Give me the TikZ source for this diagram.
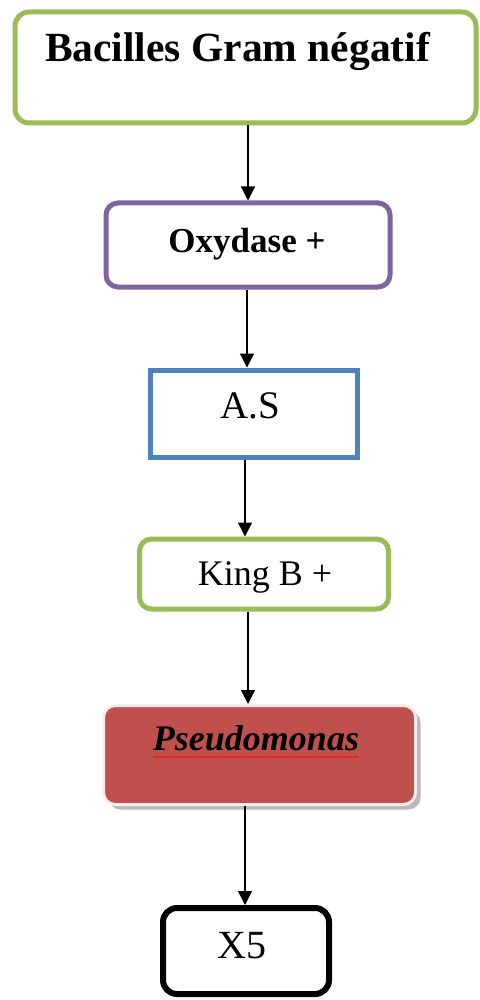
\documentclass[tikz,border=0pt]{standalone}
\usepackage{fontspec}
\setmainfont{Liberation Serif}
\usetikzlibrary{arrows.meta,shadows,decorations.pathmorphing}
\definecolor{bgreen}{HTML}{9BBB59}
\definecolor{bpurple}{HTML}{8064A2}
\definecolor{bblue}{HTML}{4F81BD}
\definecolor{bred}{HTML}{C0504D}
\tikzset{
  box/.style={rectangle, inner sep=0pt, line width=5pt, fill=white},
  lbl/.style={anchor=base, inner sep=0pt, text=black},
  arr/.style={line width=1.3pt, -{Triangle[length=14pt,width=14pt]}}
}
\begin{document}
\begin{tikzpicture}[x=1pt,y=-1pt]
\useasboundingbox[fill=white] (0,0) rectangle (479,1000);
% boxes
\node[box, draw=bgreen, rounded corners=14pt, minimum width=461pt, minimum height=111pt] (b1) at (245.5,67.5) {};
\node[box, draw=bpurple, rounded corners=12pt, minimum width=284pt, minimum height=84pt] (b2) at (248,245) {};
\node[box, draw=bblue, minimum width=207pt, minimum height=87pt] (b3) at (253.5,413.5) {};
\node[box, draw=bgreen, rounded corners=12pt, minimum width=249pt, minimum height=70pt] (b4) at (264,574) {};
\node[box, fill=bred, draw=red!8, line width=3pt, rounded corners=12pt, minimum width=312pt, minimum height=99pt,
      drop shadow={shadow xshift=5pt, shadow yshift=-5pt, fill=gray!55, opacity=1}] (b5) at (259.5,755) {};
\node[box, draw=black, line width=6pt, rounded corners=14pt, minimum width=166pt, minimum height=86pt] (b6) at (246,951) {};
% texts
\node[lbl, font=\fontsize{41.5}{41.5}\selectfont\bfseries] (t1) at (237.5,62) {Bacilles Gram négatif};
\node[lbl, font=\fontsize{35}{35}\selectfont\bfseries] (t2) at (247,252) {Oxydase +};
\node[lbl, font=\fontsize{39}{39}\selectfont] (t3) at (250,418) {A.S};
\node[lbl, font=\fontsize{36}{36}\selectfont] (t4) at (265,585) {King B +};
\node[lbl, font=\fontsize{36}{36}\selectfont\bfseries\itshape] (t5) at (256,750) {Pseudomonas};
\node[lbl, font=\fontsize{40}{40}\selectfont] (t6) at (242,958) {X5};
% spell-check underline
\draw[red, line width=0.5pt, decorate, decoration={snake, amplitude=0.7pt, segment length=3pt}]
  ([yshift=-7pt]t5.base west) -- ([yshift=-7pt]t5.base east);
% arrows
\draw[arr] ([xshift=2.5pt]b1.south) -- ([xshift=0pt]b2.north);
\draw[arr] ([xshift=-1pt]b2.south) -- ([xshift=-6.5pt]b3.north);
\draw[arr] ([xshift=-8.5pt]b3.south) -- ([xshift=-19pt]b4.north);
\draw[arr] ([xshift=-16pt]b4.south) -- ([xshift=-11.5pt]b5.north);
\draw[arr] ([xshift=-14.5pt]b5.south) -- ([xshift=-1pt]b6.north);
\end{tikzpicture}
\end{document}
